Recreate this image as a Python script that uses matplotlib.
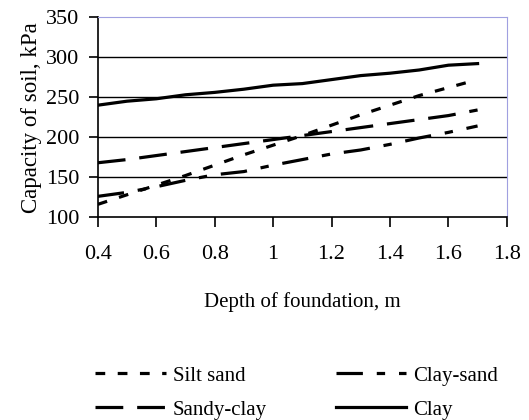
import numpy as np
import matplotlib.pyplot as plt

plt.rcParams['font.family'] = ['Liberation Serif', 'DejaVu Serif']
plt.rcParams['lines.scale_dashes'] = False

# Depth of foundation, m
depth = [0.4, 0.5, 0.6, 0.7, 0.8, 0.9, 1.0, 1.1, 1.2, 1.3, 1.4, 1.5, 1.6, 1.7]

# Capacity of soil, kPa
silt_sand = [116, 128, 140, 152, 165, 178, 190, 202, 215, 228, 240, 252, 262, 272]
clay_sand = [126, 131, 138, 146, 153, 157, 165, 172, 179, 184, 191, 199, 206, 214]
sandy_clay = [168, 172, 177, 182, 187, 192, 197, 202, 207, 212, 217, 222, 227, 234]
clay = [240, 245, 248, 253, 256, 260, 265, 267, 272, 277, 280, 284, 290, 292]

xticks = [0.4, 0.6, 0.8, 1.0, 1.2, 1.4, 1.6, 1.8]
xticklabels = ['0.4', '0.6', '0.8', '1', '1.2', '1.4', '1.6', '1.8']
yticks = [100, 150, 200, 250, 300, 350]

fig = plt.figure(figsize=(5.29, 4.2), dpi=100)
ax = fig.add_axes([0.185, 0.483, 0.773, 0.476])

lw = 2.3
h1, = ax.plot(depth, silt_sand, color='black', lw=lw, linestyle=(0, (7, 9)), label='Silt sand')
h2, = ax.plot(depth, sandy_clay, color='black', lw=lw, linestyle=(0, (20, 10)), label='Sandy-clay')
h3, = ax.plot(depth, clay_sand, color='black', lw=lw, linestyle=(0, (19, 10, 6, 10)), label='Clay-sand')
h4, = ax.plot(depth, clay, color='black', lw=lw, label='Clay')

ax.set_xlim(0.4, 1.8)
ax.set_ylim(100, 350)
ax.set_xticks(xticks)
ax.set_xticklabels(xticklabels)
ax.set_yticks(yticks)
ax.tick_params(labelsize=16, direction='out', width=1.2)
ax.tick_params(axis='y', length=6.5, pad=7)
ax.tick_params(axis='x', length=7, pad=13)

for y in [150, 200, 250, 300]:
    ax.axhline(y, color='black', lw=1.0, zorder=0)

ax.spines['left'].set_linewidth(1.2)
ax.spines['bottom'].set_linewidth(1.2)
ax.spines['top'].set_color('#a0a0e0')
ax.spines['right'].set_color('#a0a0e0')

ax.set_xlabel('Depth of foundation, m', fontsize=15, labelpad=20)
ax.set_ylabel('Capacity of soil, kPa', fontsize=16.5, labelpad=3)

fig.legend(handles=[h1, h2, h3, h4], ncol=2, frameon=False, fontsize=15,
           loc='upper left', bbox_to_anchor=(95 / 529, 1 - 366 / 420),
           borderpad=0, borderaxespad=0, handlelength=3.4,
           columnspacing=3.3, labelspacing=0.7, handletextpad=0.33)

fig.savefig('out.png', dpi=100)
